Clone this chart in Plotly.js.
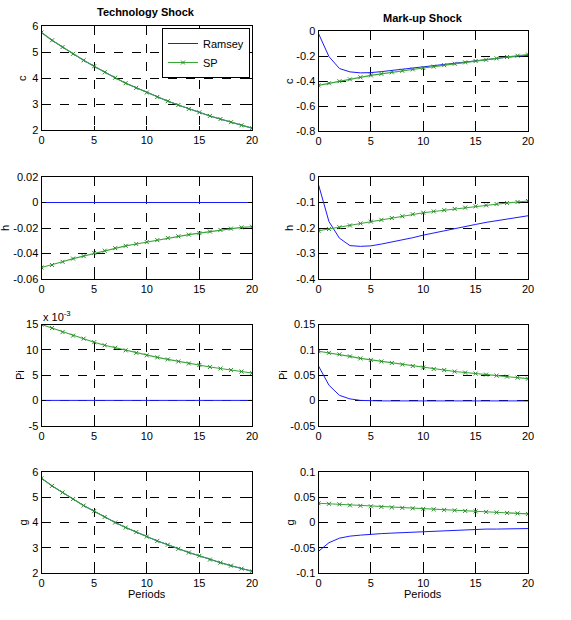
<!DOCTYPE html>
<html>
<head>
<meta charset="utf-8">
<script src="https://cdn.plot.ly/plotly-3.0.1.min.js"></script>
<style>html,body{margin:0;padding:0;background:#fff;}#chart{width:571px;height:620px;}</style>
</head>
<body>
<div id="chart"></div>
<script>
// Periods
const periods = [0,1,2,3,4,5,6,7,8,9,10,11,12,13,14,15,16,17,18,19,20];

// Technology shock
const techC_Ramsey = [5.75,5.45,5.19,4.93,4.68,4.45,4.22,4.01,3.80,3.62,3.44,3.27,3.11,2.96,2.81,2.68,2.54,2.42,2.30,2.18,2.07];
const techC_SP     = [5.75,5.45,5.19,4.93,4.68,4.45,4.22,4.01,3.80,3.62,3.44,3.27,3.11,2.96,2.81,2.68,2.54,2.42,2.30,2.18,2.07];
const techH_Ramsey = [0,0,0,0,0,0,0,0,0,0,0,0,0,0,0,0,0,0,0,0,0];
const techH_SP     = [-0.051,-0.049,-0.0465,-0.044,-0.042,-0.0395,-0.0378,-0.0358,-0.034,-0.0325,-0.031,-0.0295,-0.0278,-0.0265,-0.0252,-0.024,-0.0228,-0.0215,-0.0205,-0.0195,-0.019];
// Pi in units of 10^-3
const techPi_Ramsey = [0,0,0,0,0,0,0,0,0,0,0,0,0,0,0,0,0,0,0,0,0];
const techPi_SP     = [15,14.3,13.5,12.8,12.2,11.5,10.9,10.4,9.9,9.4,8.9,8.5,8.1,7.7,7.3,7.0,6.6,6.3,6.0,5.7,5.4];
const techG_Ramsey = [5.75,5.45,5.19,4.93,4.67,4.45,4.22,4.00,3.80,3.62,3.44,3.27,3.12,2.96,2.81,2.68,2.53,2.41,2.29,2.17,2.07];
const techG_SP     = [5.75,5.45,5.19,4.93,4.67,4.45,4.22,4.00,3.80,3.62,3.44,3.27,3.12,2.96,2.81,2.68,2.53,2.41,2.29,2.17,2.07];

// Mark-up shock
const mkC_Ramsey = [-0.02,-0.205,-0.30,-0.327,-0.335,-0.333,-0.325,-0.315,-0.305,-0.295,-0.285,-0.275,-0.265,-0.255,-0.247,-0.238,-0.228,-0.22,-0.21,-0.203,-0.195];
const mkC_SP     = [-0.435,-0.418,-0.402,-0.387,-0.370,-0.355,-0.343,-0.330,-0.318,-0.307,-0.296,-0.285,-0.273,-0.262,-0.251,-0.240,-0.230,-0.219,-0.208,-0.198,-0.188];
const mkH_Ramsey = [-0.03,-0.175,-0.24,-0.269,-0.272,-0.27,-0.263,-0.255,-0.247,-0.238,-0.228,-0.219,-0.21,-0.203,-0.195,-0.186,-0.178,-0.171,-0.165,-0.158,-0.152];
const mkH_SP     = [-0.211,-0.204,-0.197,-0.190,-0.182,-0.175,-0.168,-0.161,-0.154,-0.146,-0.140,-0.135,-0.130,-0.125,-0.120,-0.115,-0.111,-0.106,-0.102,-0.098,-0.094];
const mkPi_Ramsey = [0.068,0.030,0.010,0.003,0.000,-0.001,-0.001,-0.001,-0.001,-0.001,-0.001,-0.001,-0.001,-0.001,-0.001,-0.001,-0.001,-0.001,-0.001,-0.001,-0.001];
const mkPi_SP     = [0.097,0.094,0.091,0.087,0.083,0.080,0.077,0.074,0.071,0.068,0.065,0.062,0.060,0.057,0.055,0.053,0.051,0.049,0.047,0.045,0.043];
const mkG_Ramsey = [-0.057,-0.040,-0.031,-0.027,-0.025,-0.023,-0.022,-0.021,-0.020,-0.019,-0.018,-0.017,-0.016,-0.015,-0.014,-0.014,-0.013,-0.013,-0.013,-0.012,-0.012];
const mkG_SP     = [0.038,0.037,0.036,0.034,0.033,0.032,0.031,0.030,0.029,0.028,0.027,0.026,0.025,0.024,0.023,0.022,0.021,0.020,0.019,0.018,0.017];

const seriesNames = ["Ramsey","SP"];
const panelTitles = ["Technology Shock","Mark-up Shock"];
const yLabels = ["c","h","Pi","g"];
const xLabel = "Periods";
const xTicks = [0,5,10,15,20];

const panels = [
  {r: techC_Ramsey, s: techC_SP, range:[2,6], ticks:[2,3,4,5,6], text:["2","3","4","5","6"]},
  {r: mkC_Ramsey, s: mkC_SP, range:[-0.8,0], ticks:[-0.8,-0.6,-0.4,-0.2,0], text:["-0.8","-0.6","-0.4","-0.2","0"]},
  {r: techH_Ramsey, s: techH_SP, range:[-0.06,0.02], ticks:[-0.06,-0.04,-0.02,0,0.02], text:["-0.06","-0.04","-0.02","0","0.02"]},
  {r: mkH_Ramsey, s: mkH_SP, range:[-0.4,0], ticks:[-0.4,-0.3,-0.2,-0.1,0], text:["-0.4","-0.3","-0.2","-0.1","0"]},
  {r: techPi_Ramsey, s: techPi_SP, range:[-5,15], ticks:[-5,0,5,10,15], text:["-5","0","5","10","15"]},
  {r: mkPi_Ramsey, s: mkPi_SP, range:[-0.05,0.15], ticks:[-0.05,0,0.05,0.1,0.15], text:["-0.05","0","0.05","0.1","0.15"]},
  {r: techG_Ramsey, s: techG_SP, range:[2,6], ticks:[2,3,4,5,6], text:["2","3","4","5","6"]},
  {r: mkG_Ramsey, s: mkG_SP, range:[-0.1,0.1], ticks:[-0.1,-0.05,0,0.05,0.1], text:["-0.1","-0.05","0","0.05","0.1"]}
];

const W = 571, H = 620;
const colX = [[41.5,252],[318.5,528]];
const rowY = [[[26,130],[31,131]],[[177,279],[177,279]],[[324.5,425.7],[324.5,425.7]],[[472,573],[472,573]]];

const FONT = "Liberation Sans, Arial, sans-serif";
const blue = "#1a1aff", green = "#3aa53a", mgreen = "#2a8a2a";

const traces = [];
const layout = {
  width: W, height: H,
  margin: {l:0, r:0, t:0, b:0},
  paper_bgcolor: "#ffffff", plot_bgcolor: "#ffffff",
  font: {family: FONT, size: 11, color: "#000"},
  showlegend: true,
  legend: {x: 162/W, y: 1-28/H, xanchor: "left", yanchor: "top", bgcolor: "#ffffff",
           bordercolor: "#000", borderwidth: 1, font: {family: FONT, size: 11}, tracegroupgap: 0},
  annotations: []
};

panels.forEach((p, i) => {
  const row = Math.floor(i/2), col = i%2;
  const n = i+1;
  const xa = n===1 ? "x" : "x"+n, ya = n===1 ? "y" : "y"+n;
  const xk = n===1 ? "xaxis" : "xaxis"+n, yk = n===1 ? "yaxis" : "yaxis"+n;
  const cx = colX[col], ry = rowY[row][col];
  const axBase = {showline:true, linecolor:"#000", linewidth:1, mirror:"ticks", ticks:"inside", ticklen:4,
                  tickcolor:"#000", showgrid:true, gridcolor:"#000", griddash:"dash", gridwidth:1,
                  zeroline:false, tickfont:{family:FONT,size:11,color:"#000"}, fixedrange:true};
  layout[xk] = Object.assign({}, axBase, {domain:[cx[0]/W, cx[1]/W], range:[0,20], tickvals:xTicks,
                  ticktext: xTicks.map(String), anchor: ya});
  layout[yk] = Object.assign({}, axBase, {domain:[1-ry[1]/H, 1-ry[0]/H], range:p.range, tickvals:p.ticks,
                  ticktext:p.text, anchor: xa});
  traces.push({x: periods, y: p.r, xaxis: xa, yaxis: ya, type:"scatter", mode:"lines", name: seriesNames[0],
               line:{color:blue, width:1}, showlegend: i===0, legendgroup:"r"});
  traces.push({x: periods, y: p.s, xaxis: xa, yaxis: ya, type:"scatter", mode:"lines+markers", name: seriesNames[1],
               line:{color:green, width:1.1}, marker:{symbol:"x-thin", size:4, line:{color:mgreen, width:1}, color:mgreen},
               showlegend: i===0, legendgroup:"s"});
  // y label
  const ylx = col===0 ? [22,5,20,22][row] : [289,289,283,289][row];
  layout.annotations.push({xref:"paper", yref:"paper", x: ylx/W, y: 1-((ry[0]+ry[1])/2)/H, text: yLabels[row],
               showarrow:false, textangle:-90, font:{family:FONT,size:11,color:"#000"}, xanchor:"center", yanchor:"middle"});
  if (row===3) {
    layout.annotations.push({xref:"paper", yref:"paper", x: ((cx[0]+cx[1])/2)/W, y: 1-594/H, text: xLabel,
               showarrow:false, font:{family:FONT,size:11,color:"#000"}, xanchor:"center", yanchor:"middle"});
  }
});

layout.annotations.push({xref:"paper", yref:"paper", x: 146/W, y: 1-12/H, text: "<b>"+panelTitles[0]+"</b>",
   showarrow:false, font:{family:FONT,size:11,color:"#000"}, xanchor:"center", yanchor:"middle"});
layout.annotations.push({xref:"paper", yref:"paper", x: 423/W, y: 1-18/H, text: "<b>"+panelTitles[1]+"</b>",
   showarrow:false, font:{family:FONT,size:11,color:"#000"}, xanchor:"center", yanchor:"middle"});
layout.annotations.push({xref:"paper", yref:"paper", x: 41/W, y: 1-316/H, text: "x 10<sup>-3</sup>",
   showarrow:false, font:{family:FONT,size:11,color:"#000"}, xanchor:"left", yanchor:"middle"});

Plotly.newPlot("chart", traces, layout, {staticPlot:true, displayModeBar:false});
</script>
</body>
</html>
